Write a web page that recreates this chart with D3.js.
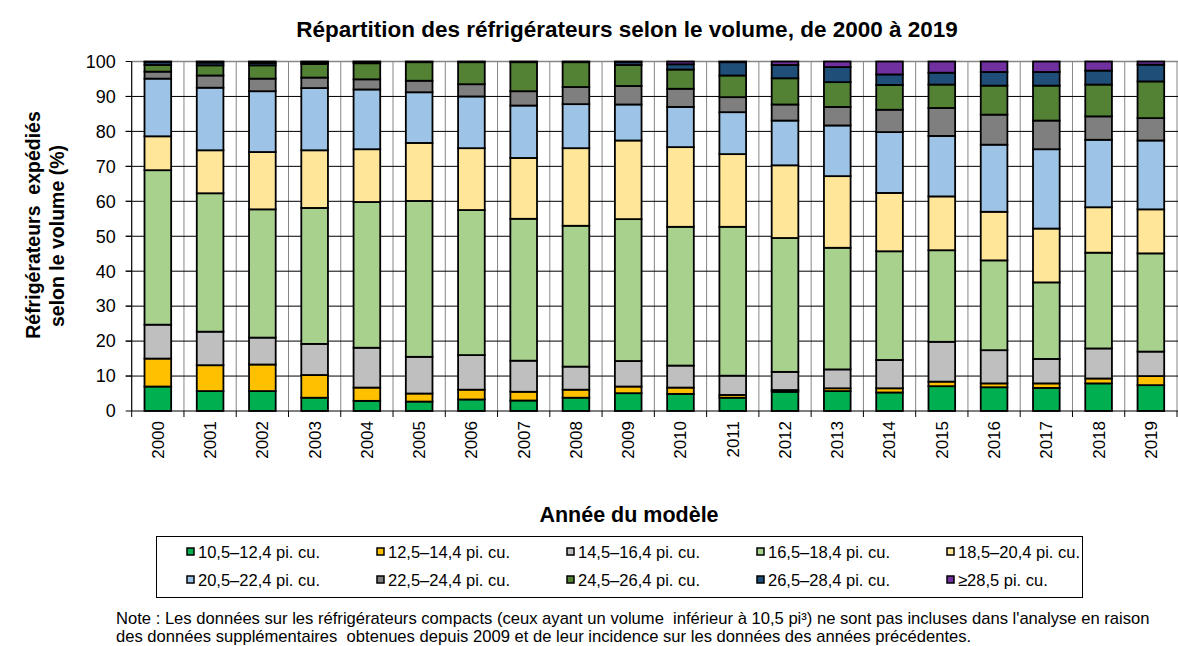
<!DOCTYPE html>
<html>
<head>
<meta charset="utf-8">
<script src="https://cdn.jsdelivr.net/npm/d3@7"></script>
<style>
  body { margin: 0; background: #fff; }
  svg { display: block; font-family: "Liberation Sans", Arial, sans-serif; }
</style>
</head>
<body>
<div id="chart"></div>
<script>
const years = ["2000","2001","2002","2003","2004","2005","2006","2007","2008","2009",
  "2010","2011","2012","2013","2014","2015","2016","2017","2018","2019"];

const categories = ["10,5–12,4 pi. cu.", "12,5–14,4 pi. cu.", "14,5–16,4 pi. cu.", "16,5–18,4 pi. cu.",
  "18,5–20,4 pi. cu.", "20,5–22,4 pi. cu.", "22,5–24,4 pi. cu.", "24,5–26,4 pi. cu.",
  "26,5–28,4 pi. cu.", "≥28,5 pi. cu."];

const colors = ["#00b050", "#ffc000", "#bfbfbf", "#a9d18e", "#ffe699",
  "#9dc3e6", "#7f7f7f", "#548235", "#1f4e79", "#7030a0"];

// share (%) per size class, one value per year
const s1  = [7.0, 5.7, 5.7, 3.8, 2.9, 2.7, 3.3, 3.0, 3.8, 5.1, 4.9, 3.8, 5.5, 5.7, 5.3, 7.1, 6.8, 6.6, 7.9, 7.4];
const s2  = [8.0, 7.4, 7.6, 6.5, 3.8, 2.3, 2.8, 2.5, 2.3, 1.9, 1.8, 0.8, 0.5, 0.8, 1.2, 1.3, 1.1, 1.3, 1.4, 2.6];
const s3  = [9.7, 9.6, 7.7, 8.9, 11.4, 10.5, 9.9, 8.9, 6.6, 7.3, 6.3, 5.5, 5.2, 5.4, 8.1, 11.4, 9.5, 7.0, 8.6, 7.0];
const s4  = [44.2, 39.6, 36.7, 38.9, 41.7, 44.6, 41.5, 40.6, 40.3, 40.6, 39.7, 42.6, 38.3, 34.8, 31.1, 26.2, 25.7, 21.9, 27.4, 28.1];
const s5  = [9.7, 12.3, 16.4, 16.5, 15.1, 16.6, 17.7, 17.4, 22.2, 22.5, 22.8, 20.8, 20.8, 20.5, 16.7, 15.4, 13.9, 15.4, 13.0, 12.6];
const s6  = [16.5, 17.9, 17.4, 17.8, 17.1, 14.5, 14.8, 15.0, 12.6, 10.3, 11.5, 12.0, 12.8, 14.5, 17.4, 17.3, 19.2, 22.7, 19.3, 19.7];
const s7  = [2.0, 3.5, 3.6, 3.0, 2.9, 3.3, 3.5, 4.1, 4.9, 5.3, 5.2, 4.3, 4.6, 5.3, 6.4, 8.0, 8.6, 8.2, 6.7, 6.4];
const s8  = [1.9, 2.9, 3.8, 3.9, 4.6, 5.3, 6.3, 8.3, 7.1, 6.0, 5.5, 6.2, 7.5, 7.1, 7.1, 6.7, 8.3, 10.0, 9.1, 10.5];
const s9  = [0.8, 0.8, 0.7, 0.5, 0.4, 0.2, 0.2, 0.2, 0.2, 0.8, 1.5, 3.8, 3.8, 4.3, 3.0, 3.4, 3.9, 3.9, 4.0, 4.8];
const s10 = [0.2, 0.3, 0.4, 0.2, 0.1, 0.0, 0.0, 0.0, 0.0, 0.2, 0.8, 0.2, 1.0, 1.6, 3.7, 3.2, 3.0, 3.0, 2.6, 0.9];
const series = [s1, s2, s3, s4, s5, s6, s7, s8, s9, s10];

const yTicks = [0, 10, 20, 30, 40, 50, 60, 70, 80, 90, 100];

const W = 1178, H = 646;
const margin = { top: 61.5, right: 1, bottom: 235, left: 131.7 };
const innerW = W - margin.left - margin.right;
const innerH = H - margin.top - margin.bottom;

const svg = d3.select("#chart").append("svg")
  .attr("width", W).attr("height", H);

const g = svg.append("g")
  .attr("transform", `translate(${margin.left},${margin.top})`);

const x = d3.scaleBand().domain(years).range([0, innerW])
  .paddingInner(0.49).paddingOuter(0.245);
const y = d3.scaleLinear().domain([0, 100]).range([innerH, 0]);

const table = years.map((yr, i) => {
  const row = { year: yr };
  categories.forEach((c, k) => row[c] = series[k][i]);
  return row;
});
const stacked = d3.stack().keys(categories)(table);

// vertical gridlines between categories
const step = x.step();
g.selectAll(".vgrid").data(d3.range(1, years.length + 1))
  .join("line")
  .attr("x1", d => d * step).attr("x2", d => d * step)
  .attr("y1", 0).attr("y2", innerH)
  .attr("stroke", "#868686").attr("stroke-width", 1);

// horizontal gridlines
g.selectAll(".hgrid").data(yTicks.filter(t => t > 0 && t < 100))
  .join("line")
  .attr("x1", -6).attr("x2", innerW + 2)
  .attr("y1", d => y(d)).attr("y2", d => y(d))
  .attr("stroke", "#000").attr("stroke-width", 1);

// top border
g.append("line").attr("x1", 0).attr("x2", innerW + 2)
  .attr("y1", y(100)).attr("y2", y(100))
  .attr("stroke", "#868686").attr("stroke-width", 1.5);

// bars
g.selectAll(".layer").data(stacked).join("g")
  .attr("fill", (d, i) => colors[i])
  .selectAll("rect").data(d => d).join("rect")
  .attr("x", d => x(d.data.year))
  .attr("width", x.bandwidth())
  .attr("y", d => y(d[1]))
  .attr("height", d => y(d[0]) - y(d[1]))
  .attr("stroke", "#000").attr("stroke-width", 1.8);

// y axis
g.append("line").attr("x1", 0).attr("x2", 0).attr("y1", 0).attr("y2", innerH)
  .attr("stroke", "#000").attr("stroke-width", 1.2);
g.selectAll(".ytick").data(yTicks).join("line")
  .attr("x1", -6).attr("x2", 0)
  .attr("y1", d => y(d)).attr("y2", d => y(d))
  .attr("stroke", "#000");
g.selectAll(".ylab").data(yTicks).join("text")
  .attr("x", -16).attr("y", d => y(d)).attr("dy", "0.35em")
  .attr("text-anchor", "end").attr("font-size", 18)
  .text(d => d);

// x axis
g.append("line").attr("x1", 0).attr("x2", innerW + 2).attr("y1", innerH).attr("y2", innerH)
  .attr("stroke", "#000").attr("stroke-width", 1.2);
g.selectAll(".xtick").data(d3.range(0, years.length + 1))
  .join("line")
  .attr("x1", d => d * step).attr("x2", d => d * step)
  .attr("y1", innerH).attr("y2", innerH + 6)
  .attr("stroke", "#000");
g.selectAll(".xlab").data(years).join("text")
  .attr("transform", d => `translate(${x(d) + x.bandwidth() / 2},${innerH + 10}) rotate(-90)`)
  .attr("dy", "0.35em").attr("text-anchor", "end").attr("font-size", 17)
  .text(d => d);

// titles
svg.append("text").attr("x", 627).attr("y", 37).attr("text-anchor", "middle")
  .attr("font-size", 22.5).attr("font-weight", "bold")
  .text("Répartition des réfrigérateurs selon le volume, de 2000 à 2019");

svg.append("text").attr("x", 629).attr("y", 522).attr("text-anchor", "middle")
  .attr("font-size", 21.5).attr("font-weight", "bold")
  .text("Année du modèle");

const yt = svg.append("text").attr("transform", "translate(40,236) rotate(-90)")
  .attr("text-anchor", "middle").attr("font-size", 19.5).attr("font-weight", "bold");
yt.append("tspan").attr("x", 11).attr("y", 0).attr("xml:space", "preserve").text("Réfrigérateurs  expédiés");
yt.append("tspan").attr("x", 0).attr("y", 24).text("selon le volume (%)");

// legend
svg.append("rect").attr("x", 156.5).attr("y", 536.5).attr("width", 926).attr("height", 61)
  .attr("fill", "none").attr("stroke", "#000").attr("stroke-width", 1);
const leg = svg.selectAll(".leg").data(categories).join("g")
  .attr("transform", (d, i) => `translate(${187 + (i % 5) * 190},${i < 5 ? 552 : 580})`);
leg.append("rect").attr("x", 0).attr("y", -4).attr("width", 7).attr("height", 7)
  .attr("fill", (d, i) => colors[i]).attr("stroke", "#000").attr("stroke-width", 1.5);
leg.append("text").attr("x", 11).attr("y", 0).attr("dy", "0.35em")
  .attr("font-size", 16.5).text(d => d);

// note
const note = svg.append("text").attr("font-size", 16.6).attr("xml:space", "preserve");
note.append("tspan").attr("x", 116).attr("y", 624)
  .text("Note : Les données sur les réfrigérateurs compacts (ceux ayant un volume  inférieur à 10,5 pi³) ne sont pas incluses dans l'analyse en raison");
note.append("tspan").attr("x", 116).attr("y", 642)
  .text("des données supplémentaires  obtenues depuis 2009 et de leur incidence sur les données des années précédentes.");
</script>
</body>
</html>
